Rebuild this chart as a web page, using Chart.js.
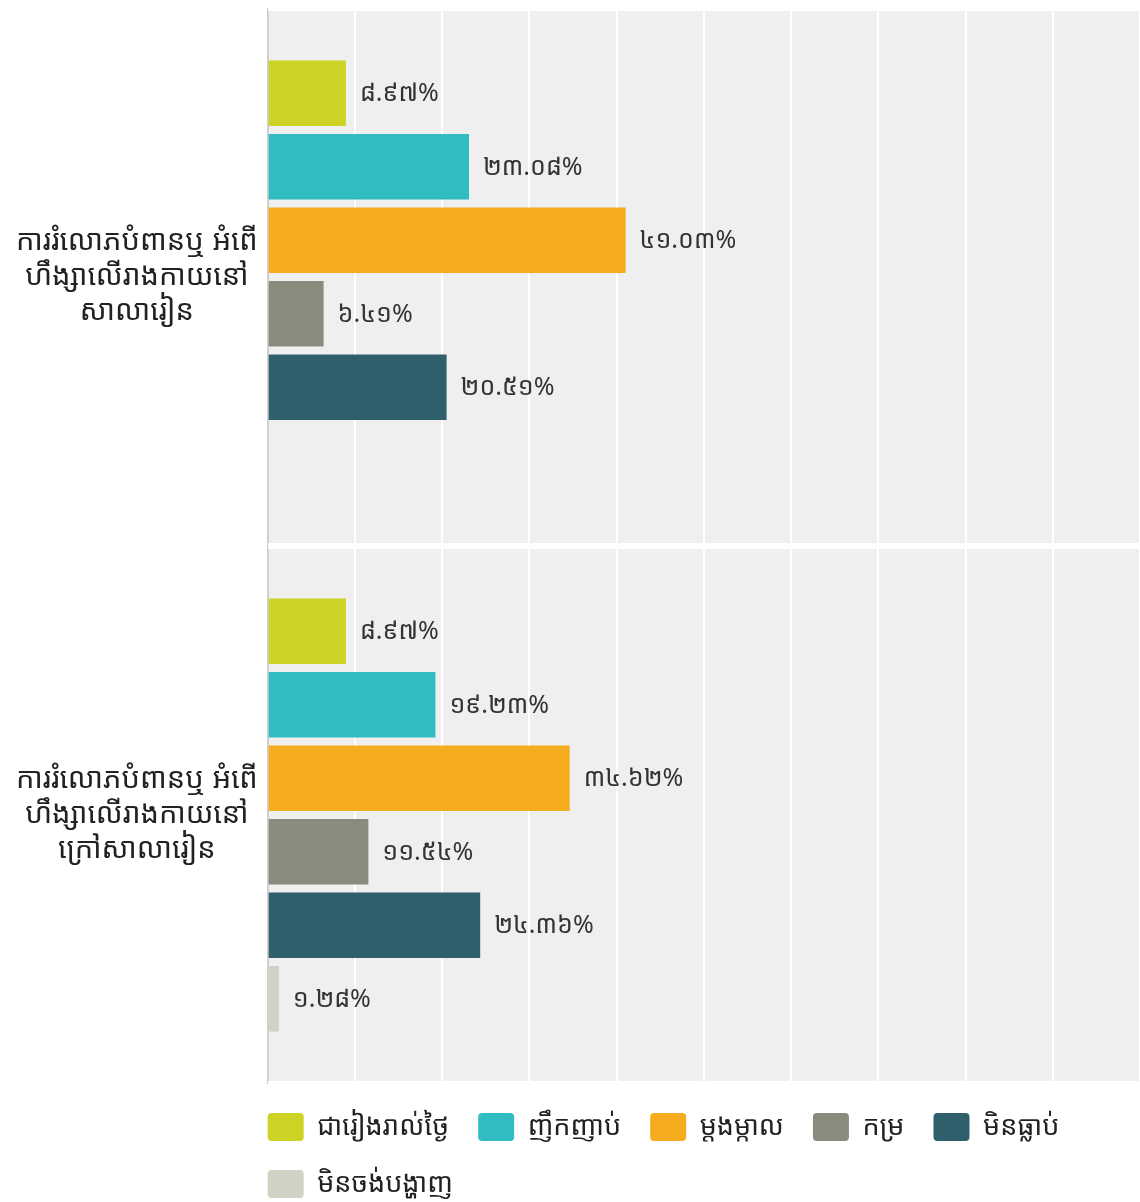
<!DOCTYPE html>
<html>
<head>
<meta charset="utf-8">
<script src="https://cdn.jsdelivr.net/npm/chart.js@4.4.1/dist/chart.umd.min.js"></script>
<style>
  html, body { margin: 0; padding: 0; background: #fff; }
  #wrap { width: 1140px; height: 1202px; position: relative; }
</style>
</head>
<body>
<div id="wrap"><canvas id="chart"></canvas></div>
<script>
const categories = [
  ["ការរំលោភបំពានឬ អំពើ", "ហឹង្សាលើរាងកាយនៅ", "សាលារៀន"],
  ["ការរំលោភបំពានឬ អំពើ", "ហឹង្សាលើរាងកាយនៅ", "ក្រៅសាលារៀន"]
];
const seriesNames = ["ជារៀងរាល់ថ្ងៃ", "ញឹកញាប់", "ម្តងម្កាល", "កម្រ", "មិនធ្លាប់", "មិនចង់បង្ហាញ"];
const seriesColors = ["#cdd325", "#31bcc1", "#f5ac1f", "#8b8b7d", "#2e5f6b", "#d2d2c4"];
const dailyValues = [8.97, 8.97];
const oftenValues = [23.08, 19.23];
const sometimesValues = [41.03, 34.62];
const rarelyValues = [6.41, 11.54];
const neverValues = [20.51, 24.36];
const noAnswerValues = [null, 1.28];
const xTicks = [0, 10, 20, 30, 40, 50, 60, 70, 80, 90, 100];

const allValues = [dailyValues, oftenValues, sometimesValues, rarelyValues, neverValues, noAnswerValues];
const khDigits = "០១២៣៤៥៦៧៨៩";
function toKhmer(v) {
  return v.toFixed(2).replace(/[0-9]/g, d => khDigits[+d]) + "%";
}

const khFont = "'Noto Sans Khmer', 'Khmer OS', 'Noto Serif Khmer', 'Noto Sans', sans-serif";
const legendPad = 29;

// gray panel behind the bars
const panelBg = {
  id: "panelBg",
  afterLayout(chart) {
    // legend starts flush with the plot's left edge
    const lg = chart.legend;
    if (lg) { lg.left -= legendPad; lg.right -= legendPad; }
  },
  beforeDraw(chart) {
    const { ctx, chartArea: a } = chart;
    ctx.save();
    ctx.fillStyle = "#efefef";
    ctx.fillRect(a.left, a.top, a.right - a.left, a.bottom - a.top);
    ctx.restore();
  }
};

// value labels to the right of each bar
const valueLabels = {
  id: "valueLabels",
  afterDatasetsDraw(chart) {
    const ctx = chart.ctx;
    ctx.save();
    ctx.font = "25px " + khFont;
    ctx.fillStyle = "#333";
    ctx.textBaseline = "middle";
    chart.data.datasets.forEach((ds, i) => {
      chart.getDatasetMeta(i).data.forEach((bar, j) => {
        const v = ds.data[j];
        if (v == null) return;
        ctx.fillText(toKhmer(v), bar.x + 14, bar.y + 1);
      });
    });
    ctx.restore();
  }
};

new Chart(document.getElementById("chart"), {
  type: "bar",
  data: {
    labels: categories,
    datasets: seriesNames.map((name, i) => ({
      label: name,
      data: allValues[i],
      backgroundColor: seriesColors[i],
      categoryPercentage: 0.82,
      barPercentage: 0.89
    }))
  },
  options: {
    indexAxis: "y",
    responsive: true,
    maintainAspectRatio: false,
    animation: false,
    layout: { padding: { top: 8, left: 6, right: 0, bottom: -6 } },
    scales: {
      x: {
        min: 0,
        max: 100,
        afterBuildTicks: axis => { axis.ticks = xTicks.map(v => ({ value: v })); },
        ticks: { display: false },
        grid: {
          color: ctx => ctx.tick && ctx.tick.value === 0 ? "#cfcfcf" : "#ffffff",
          lineWidth: 2,
          drawTicks: false
        },
        border: { display: false }
      },
      y: {
        afterFit: s => { s.paddingTop = 0; s.paddingBottom = 0; },
        grid: { color: "#ffffff", lineWidth: 6, drawTicks: false, offset: true },
        border: { display: false },
        ticks: {
          color: "#222",
          crossAlign: "center",
          padding: 10,
          font: { size: 29, family: khFont, lineHeight: 1.2 }
        }
      }
    },
    plugins: {
      legend: {
        position: "bottom",
        align: "start",
        fullSize: false,
        labels: {
          boxWidth: 36,
          boxHeight: 28,
          padding: legendPad,
          color: "#222",
          font: { size: 27, family: khFont },
          useBorderRadius: true,
          borderRadius: 4
        }
      },
      tooltip: { enabled: false }
    }
  },
  plugins: [panelBg, valueLabels]
});
</script>
</body>
</html>
